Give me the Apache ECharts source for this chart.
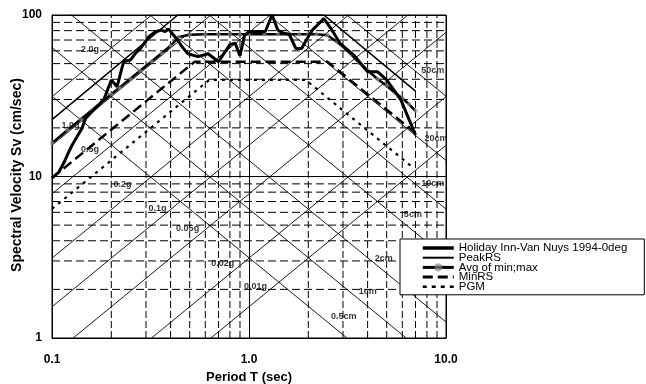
<!DOCTYPE html>
<html><head><meta charset="utf-8">
<script src="https://cdn.jsdelivr.net/npm/echarts@6/dist/echarts.min.js"></script>
<style>html,body{margin:0;padding:0;background:#fff}#c{width:646px;height:384px}</style>
</head><body><div id="c"></div>
<script>
// ---- tick / grid values ----
const periodTicks = [0.1, 1, 10];
const svTicks = [1, 10, 100];
const minorPeriods = [0.2,0.3,0.4,0.5,0.6,0.7,0.8,0.9,2,3,4,5,6,7,8,9];
const minorSv = [2,3,4,5,6,7,8,9,20,30,40,50,60,70,80,90];
const accelLinesG = [0.01,0.02,0.05,0.1,0.2,0.5,1,2];
const dispLinesCm = [0.5,1,2,5,10,20,50];
const accelLabelText = ['2.0g','1.0g','0.5g','0.2g','0.1g','0.05g','0.02g','0.01g'];
const accelLabelT  = [0.156,0.124,0.156,0.228,0.343,0.488,0.735,1.08];
const accelLabelSv = [60.7,20.8,14.6,8.86,6.38,4.73,2.91,2.07];
const dispLabelText = ['50cm','20cm','10cm','5cm','2cm','1cm','0.5cm'];
const dispLabelT  = [8.57,8.89,8.57,6.79,4.83,4.01,3.03];
const dispLabelSv = [45.6,17.1,8.99,5.78,3.09,1.95,1.35];

// ---- series values (Period T sec, Sv cm/sec) ----
const recordT = [0.100,0.108,0.115,0.121,0.126,0.131,0.142,0.148,0.166,0.183,0.200,0.214,0.231,0.250,0.265,0.281,0.310,0.335,0.360,0.375,0.391,0.410,0.430,0.460,0.490,0.550,0.620,0.700,0.800,0.850,0.900,0.950,1.000,1.210,1.310,1.400,1.500,1.600,1.730,1.850,2.000,2.100,2.400,2.600,2.900,3.400,4.000,4.500,5.000,5.900,7.000];
const recordSv = [9.8,10.6,12.2,14.0,15.5,16.8,19.9,22.9,26.5,29.8,39.6,36.0,51.4,52.6,57.9,62.0,73.4,78.8,80.7,79.0,82.0,76.0,71.0,63.0,57.5,55.2,57.5,51.4,65.5,67.0,56.0,75.0,79.0,79.0,100,80.7,77.0,76.0,62.0,62.0,73.4,80.7,95.0,82.7,66.8,56.5,44.5,44.5,39.6,29.8,18.1];
const peakT = [0.1, 0.435, 2.4, 7.0];
const peakSv = [22.5, 100, 100, 33.8];
const avgT = [0.1,0.12,0.14,0.16,0.18,0.2,0.22,0.25,0.28,0.32,0.36,0.4,0.44,0.5,0.6,0.7,0.8,0.9,1.0,1.2,1.4,1.6,1.8,2.0,2.2,2.5,2.8,3.0,3.3,3.6,4.0,4.5,5.0,5.5,6.0,6.5,7.0];
const avgSv = [16.1,19.4,22.6,25.8,29,32.3,35.5,40.3,45.2,51.6,58,64.5,73,75.5,76,76,76,76,76,76,76,76,76,76,76,75,68,63.5,57,51,45.5,40,36.5,33,30.5,28,25.5];
const minT = [0.1, 0.53, 2.5, 7.0];
const minSv = [9.8, 51.4, 51.4, 18.6];
const pgmT = [0.1, 0.628, 1.94, 6.6];
const pgmSv = [6.3, 39.6, 39.6, 11.7];

const FONT = 'Liberation Sans, Arial, sans-serif';
const G = 981;
const NOFILL = 'rgba(0,0,0,0)';
const zip = (a, b) => a.map((v, i) => [v, b[i]]);
const series = [];
const gridLine = (pts, type, width) => ({type:'line', data: pts, symbol:'none', silent:true,
  lineStyle:{color:'#000', width, type}, z:1, animation:false});
minorPeriods.forEach(t => series.push(gridLine([[t,1],[t,100]], [7,3], 1)));
minorSv.forEach(v => series.push(gridLine([[0.1,v],[10,v]], [8,4], 1)));
accelLinesG.forEach(a => { const k = a*G/(2*Math.PI); series.push(gridLine([[0.1,k*0.1],[10,k*10]],'solid',0.9)); });
dispLinesCm.forEach(d => { const k = 2*Math.PI*d; series.push(gridLine([[0.1,k/0.1],[10,k/10]],'solid',0.9)); });

const labelData = accelLabelText.map((s,i)=>({name:s, value:[accelLabelT[i], accelLabelSv[i]]}))
  .concat(dispLabelText.map((s,i)=>({name:s, value:[dispLabelT[i], dispLabelSv[i]]})));
series.push({type:'scatter', data: labelData, symbolSize: 1, itemStyle:{color:NOFILL}, silent:true, z:3,
  label:{show:true, position:'inside', formatter:'{b}', color:'#000', fontSize:9, fontWeight:'bold', fontFamily:FONT}});

const S = {
  pgm:{color:'#000', width:2.2, type:[3,5]},
  min:{color:'#000', width:2.5, type:[10,5]},
  avg:{color:'#000', width:2.5},
  peak:{color:'#000', width:1.6},
  rec:{color:'#000', width:3}
};
series.push({name:'PGM', type:'line', data: zip(pgmT,pgmSv), symbol:'none', z:5, lineStyle:S.pgm, itemStyle:{color:NOFILL}});
series.push({name:'MinRS', type:'line', data: zip(minT,minSv), symbol:'none', z:5, lineStyle:S.min, itemStyle:{color:NOFILL}});
series.push({name:'Avg of min;max', type:'line', data: zip(avgT,avgSv), symbol:'circle', symbolSize:4,
  showAllSymbol:true, z:6, lineStyle:S.avg,
  itemStyle:{color:'rgba(160,160,160,0.6)', borderColor:'rgba(110,110,110,0.5)', borderWidth:0.5}});
series.push({name:'PeakRS', type:'line', data: zip(peakT,peakSv), symbol:'none', z:6, lineStyle:S.peak, itemStyle:{color:NOFILL}});
series.push({name:'Holiday Inn-Van Nuys 1994-0deg', type:'line', data: zip(recordT,recordSv), symbol:'none', z:7, lineStyle:S.rec, itemStyle:{color:NOFILL}});

const chart = echarts.init(document.getElementById('c'));
chart.setOption({
  animation:false,
  backgroundColor:'#fff',
  grid:{left:52, top:15, right:200, bottom:46, containLabel:false, outerBoundsMode:'none',
    show:true, borderColor:'#000', borderWidth:1, backgroundColor:'#fff'},
  graphic:[{type:'text', x:17, y:175, rotation:Math.PI/2, silent:true,
    style:{text:'Spectral Velocity Sv (cm/sec)', align:'center', verticalAlign:'middle',
      font:'bold 14px ' + FONT, fill:'#000'}}],
  xAxis:{type:'log', logBase:10, min:periodTicks[0], max:periodTicks[periodTicks.length-1],
    axisLine:{lineStyle:{color:'#000'}}, axisTick:{show:false},
    splitLine:{show:true, lineStyle:{color:'#000', width:1}}, minorSplitLine:{show:false},
    axisLabel:{color:'#000', fontSize:12, fontWeight:'bold', fontFamily:FONT, margin:16,
      formatter: v => v < 1 ? String(v) : Number(v).toFixed(1)},
    name:'Period T (sec)', nameLocation:'middle', nameGap:31,
    nameTextStyle:{color:'#000', fontSize:13, fontWeight:'bold', fontFamily:FONT}},
  yAxis:{type:'log', logBase:10, min:svTicks[0], max:svTicks[svTicks.length-1],
    axisLine:{lineStyle:{color:'#000'}}, axisTick:{show:false},
    splitLine:{show:true, lineStyle:{color:'#000', width:1}},
    axisLabel:{color:'#000', fontSize:12, fontWeight:'bold', fontFamily:FONT, margin:10}},
  legend:{orient:'vertical', left:400, top:239, selectedMode:false,
    data:[
      {name:'Holiday Inn-Van Nuys 1994-0deg', lineStyle:{width:3.5}},
      {name:'PeakRS', lineStyle:{width:2}},
      {name:'Avg of min;max', lineStyle:{width:3}},
      {name:'MinRS', lineStyle:{width:3, type:[10,5]}},
      {name:'PGM', lineStyle:{width:2.5, type:[4,5]}}
    ],
    itemWidth:31, itemHeight:8, itemGap:-2.3, padding:[3,17,2,21],
    borderColor:'#000', borderWidth:1, backgroundColor:'#fff',
    textStyle:{color:'#000', fontSize:11.5, fontFamily:FONT, lineHeight:10}},
  series
});
</script></body></html>
